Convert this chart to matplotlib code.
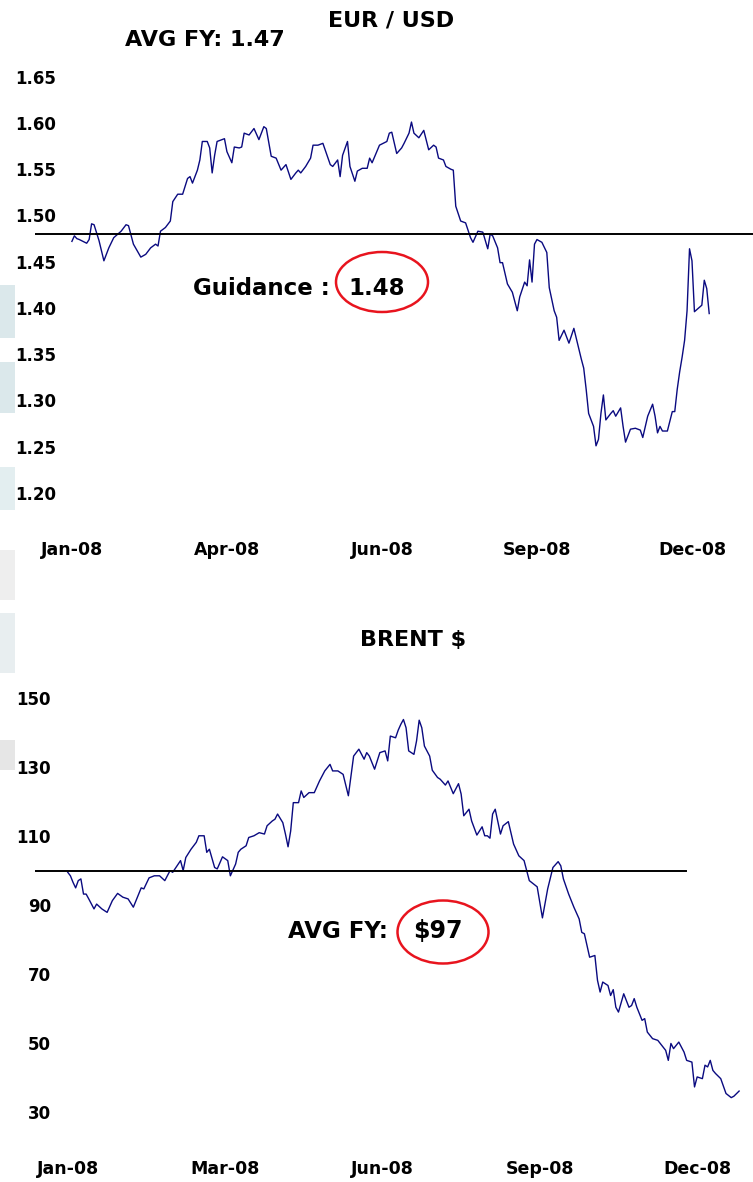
import matplotlib
matplotlib.use('Agg')
import matplotlib.pyplot as plt
from matplotlib.patches import Ellipse, Rectangle

plt.rcParams['font.family'] = ['DejaVu Sans']
plt.rcParams['font.weight'] = 'bold'

# EUR/USD, trading-day index vs rate
eur_day = [0, 1, 2, 3, 6, 7, 8, 9, 11, 13,
           15, 17, 20, 22, 23, 25, 28, 30, 32, 34,
           35, 36, 38, 40, 41, 43, 45, 47, 48, 49,
           51, 52, 53, 55, 56, 57, 58, 59, 62, 63,
           65, 66, 68, 69, 70, 72, 74, 76, 78, 79,
           81, 83, 85, 87, 89, 91, 92, 93, 95, 97,
           98, 100, 102, 105, 106, 108, 109, 110, 112, 113,
           115, 116, 118, 120, 121, 122, 125, 128, 129, 130,
           132, 134, 135, 137, 138, 139, 141, 143, 145, 147,
           148, 149, 151, 152, 154, 155, 156, 158, 160, 162,
           163, 165, 167, 169, 170, 171, 173, 174, 175, 177,
           179, 181, 182, 184, 185, 186, 187, 188, 189, 191,
           193, 194, 196, 197, 198, 200, 202, 204, 205, 207,
           208, 209, 210, 212, 213, 214, 215, 216, 217, 219,
           220, 221, 223, 224, 225, 227, 229, 231, 232, 234,
           236, 237, 238, 239, 240, 242, 244, 245, 246, 247,
           248, 249, 250, 251, 252, 253, 256, 257, 258, 259]
eur_rate = [1.472, 1.478, 1.475, 1.474, 1.470, 1.474, 1.491, 1.490, 1.473, 1.451,
            1.465, 1.476, 1.483, 1.490, 1.489, 1.469, 1.455, 1.458, 1.465, 1.469,
            1.467, 1.483, 1.487, 1.494, 1.515, 1.523, 1.523, 1.540, 1.542, 1.535,
            1.549, 1.560, 1.580, 1.580, 1.573, 1.546, 1.565, 1.580, 1.583, 1.569,
            1.557, 1.574, 1.573, 1.574, 1.589, 1.587, 1.594, 1.582, 1.596, 1.594,
            1.564, 1.562, 1.549, 1.555, 1.539, 1.546, 1.549, 1.546, 1.553, 1.562,
            1.576, 1.576, 1.578, 1.555, 1.553, 1.560, 1.542, 1.565, 1.580, 1.553,
            1.537, 1.548, 1.551, 1.551, 1.562, 1.557, 1.576, 1.580, 1.589, 1.590,
            1.567, 1.573, 1.578, 1.589, 1.601, 1.589, 1.584, 1.592, 1.571, 1.576,
            1.574, 1.562, 1.560, 1.553, 1.550, 1.549, 1.510, 1.494, 1.492, 1.476,
            1.471, 1.483, 1.482, 1.464, 1.480, 1.478, 1.465, 1.449, 1.449, 1.426,
            1.417, 1.397, 1.412, 1.428, 1.424, 1.452, 1.428, 1.469, 1.474, 1.471,
            1.460, 1.422, 1.397, 1.390, 1.365, 1.376, 1.362, 1.378, 1.367, 1.345,
            1.335, 1.312, 1.286, 1.272, 1.251, 1.258, 1.286, 1.306, 1.279, 1.286,
            1.289, 1.283, 1.292, 1.272, 1.255, 1.269, 1.270, 1.268, 1.260, 1.283,
            1.296, 1.283, 1.265, 1.272, 1.267, 1.267, 1.288, 1.288, 1.312, 1.331,
            1.347, 1.365, 1.397, 1.464, 1.451, 1.396, 1.403, 1.430, 1.421, 1.394]
eur_ticks = [0, 63, 126, 189, 252]
eur_labels = ['Jan-08', 'Apr-08', 'Jun-08', 'Sep-08', 'Dec-08']
eur_yticks = [1.20, 1.25, 1.30, 1.35, 1.40, 1.45, 1.50, 1.55, 1.60, 1.65]
eur_guidance = 1.48

# Brent $/bbl
brent_day = [0, 1, 2, 3, 4, 5, 6, 7, 8, 10,
             11, 13, 15, 17, 19, 21, 23, 25, 28, 29,
             31, 33, 35, 37, 39, 40, 43, 44, 45, 47,
             49, 50, 52, 53, 54, 56, 57, 59, 61, 62,
             64, 65, 66, 68, 69, 71, 73, 75, 76, 78,
             79, 80, 82, 83, 84, 85, 86, 88, 89, 90,
             92, 94, 96, 98, 100, 101, 103, 105, 107, 109,
             111, 113, 114, 115, 117, 119, 121, 122, 123, 125,
             126, 127, 128, 129, 130, 132, 133, 134, 135, 136,
             138, 139, 141, 142, 144, 145, 147, 149, 150, 151,
             153, 154, 156, 158, 159, 160, 161, 162, 163, 165,
             166, 168, 170, 172, 174, 176, 179, 181, 183, 185,
             187, 188, 189, 191, 193, 195, 196, 197, 199, 201,
             202, 203, 204, 206, 207, 208, 209, 210, 212, 214,
             215, 216, 217, 219, 220, 221, 223, 225, 227, 228,
             229, 230, 231, 233, 235, 236, 238, 239, 240, 242,
             243, 244, 245, 246, 247, 249, 251, 253, 254, 256]
brent_price = [99.5, 98.5, 96.6, 95.0, 97.1, 97.6, 93.2, 93.2, 91.8, 88.9,
               90.3, 88.9, 87.9, 91.3, 93.4, 92.3, 91.8, 89.4, 95.0, 94.7,
               97.9, 98.5, 98.5, 97.1, 100.0, 99.5, 102.9, 100.0, 103.8, 106.2,
               108.2, 110.1, 110.1, 105.3, 106.2, 100.9, 100.5, 104.0, 102.9, 98.5,
               101.9, 105.3, 106.2, 107.2, 109.6, 110.1, 111.0, 110.6, 113.0, 114.4,
               114.9, 116.4, 113.9, 110.6, 106.9, 111.5, 119.7, 119.7, 123.1, 121.2,
               122.6, 122.6, 126.0, 128.9, 130.8, 128.9, 128.9, 127.9, 121.7, 133.2,
               135.2, 132.3, 134.2, 133.2, 129.4, 134.2, 134.7, 131.8, 139.0, 138.5,
               140.7, 142.4, 143.8, 141.4, 134.7, 133.7, 137.6, 143.6, 141.4, 136.1,
               133.2, 129.1, 127.0, 126.5, 124.8, 126.0, 122.3, 125.2, 122.2, 115.9,
               117.8, 114.4, 110.3, 112.7, 110.1, 110.1, 109.4, 116.4, 117.8, 110.6,
               113.0, 114.2, 107.7, 104.3, 102.9, 97.1, 95.3, 86.3, 94.7, 100.9,
               102.6, 101.4, 97.6, 93.2, 89.4, 86.0, 82.1, 81.7, 74.9, 75.4,
               68.2, 64.8, 67.7, 66.7, 63.8, 65.5, 60.4, 59.0, 64.3, 60.4,
               60.9, 62.9, 60.4, 56.6, 57.1, 53.2, 51.3, 50.8, 48.9, 47.9,
               45.0, 49.9, 48.4, 50.3, 47.4, 45.0, 44.5, 37.3, 40.2, 39.7,
               43.6, 43.1, 45.0, 42.1, 41.2, 39.7, 35.4, 34.2, 34.6, 36.1]
brent_ticks = [0, 60, 120, 180, 240]
brent_labels = ['Jan-08', 'Mar-08', 'Jun-08', 'Sep-08', 'Dec-08']
brent_yticks = [30, 50, 70, 90, 110, 130, 150]
brent_ref = 100

W, H = 753, 1182
fig = plt.figure(figsize=(W / 100, H / 100), dpi=100)


def fx(px):
    return px / W


def fy(py):
    return 1 - py / H


def style(ax, ypad):
    for s in ax.spines.values():
        s.set_visible(False)
    ax.tick_params(axis='y', length=0, pad=ypad, labelsize=12)
    ax.tick_params(axis='x', length=0, labelsize=12.5)
    for lab in ax.get_xticklabels() + ax.get_yticklabels():
        lab.set_fontweight('bold')


navy = '#0a0a80'

# top panel
ax1 = fig.add_axes([fx(35), fy(540), (753 - 35) / W, (540 - 30) / H])
ax1.plot(eur_day, eur_rate, color=navy, lw=1.0)
ax1.axhline(eur_guidance, color='black', lw=1.4)
ax1.set_xlim(-15.0, 276.8)
ax1.set_ylim(1.1492, 1.7005)
ax1.set_yticks(eur_yticks)
ax1.set_yticklabels(['%.2f' % v for v in eur_yticks])
ax1.set_xticks(eur_ticks)
ax1.set_xticklabels(eur_labels)
style(ax1, -15.1)
ax1.tick_params(axis='x', pad=1)

# bottom panel
ax2 = fig.add_axes([fx(35), fy(1158), (753 - 35) / W, (1158 - 665) / H])
ax2.plot(brent_day, brent_price, color=navy, lw=1.0)
ax2.axhline(brent_ref, xmin=0, xmax=0.9067, color='black', lw=1.4)
ax2.set_xlim(-12.5, 261.3)
ax2.set_ylim(16.7, 159.6)
ax2.set_yticks(brent_yticks)
ax2.set_yticklabels([str(v) for v in brent_yticks])
ax2.set_xticks(brent_ticks)
ax2.set_xticklabels(brent_labels)
style(ax2, -11.5)
ax2.tick_params(axis='x', pad=1.5)

# titles and annotations
fig.text(fx(391), fy(27), 'EUR / USD', ha='center', va='baseline', fontsize=16, fontweight='bold')
fig.text(fx(205), fy(46), 'AVG FY: 1.47', ha='center', va='baseline', fontsize=16, fontweight='bold')
fig.text(fx(413), fy(646), 'BRENT $', ha='center', va='baseline', fontsize=16, fontweight='bold')

fig.text(fx(330), fy(295), 'Guidance :', ha='right', va='baseline', fontsize=16.5, fontweight='bold')
fig.text(fx(377), fy(295), '1.48', ha='center', va='baseline', fontsize=16.5, fontweight='bold')
fig.add_artist(Ellipse((fx(382), fy(282)), 92 / W, 60 / H, transform=fig.transFigure,
                       fill=False, edgecolor='#e8141e', lw=1.8))

fig.text(fx(388), fy(938), 'AVG FY:', ha='right', va='baseline', fontsize=16.5, fontweight='bold')
fig.text(fx(438), fy(938), '$97', ha='center', va='baseline', fontsize=17, fontweight='bold')
fig.add_artist(Ellipse((fx(443), fy(932)), 91 / W, 63 / H, transform=fig.transFigure,
                       fill=False, edgecolor='#e8141e', lw=1.8))

# faint remnants of the slide background on the left edge
for top, bot, col in [(285, 338, '#dbe8eb'), (362, 413, '#dbe8eb'), (467, 510, '#e3eef0'),
                      (550, 600, '#eeeeee'), (613, 673, '#e8eef0'), (740, 770, '#e6e6e6')]:
    fig.add_artist(Rectangle((0, fy(bot)), 15 / W, (bot - top) / H, transform=fig.transFigure,
                             facecolor=col, edgecolor='none', zorder=0))

fig.savefig('out.png', dpi=100)
